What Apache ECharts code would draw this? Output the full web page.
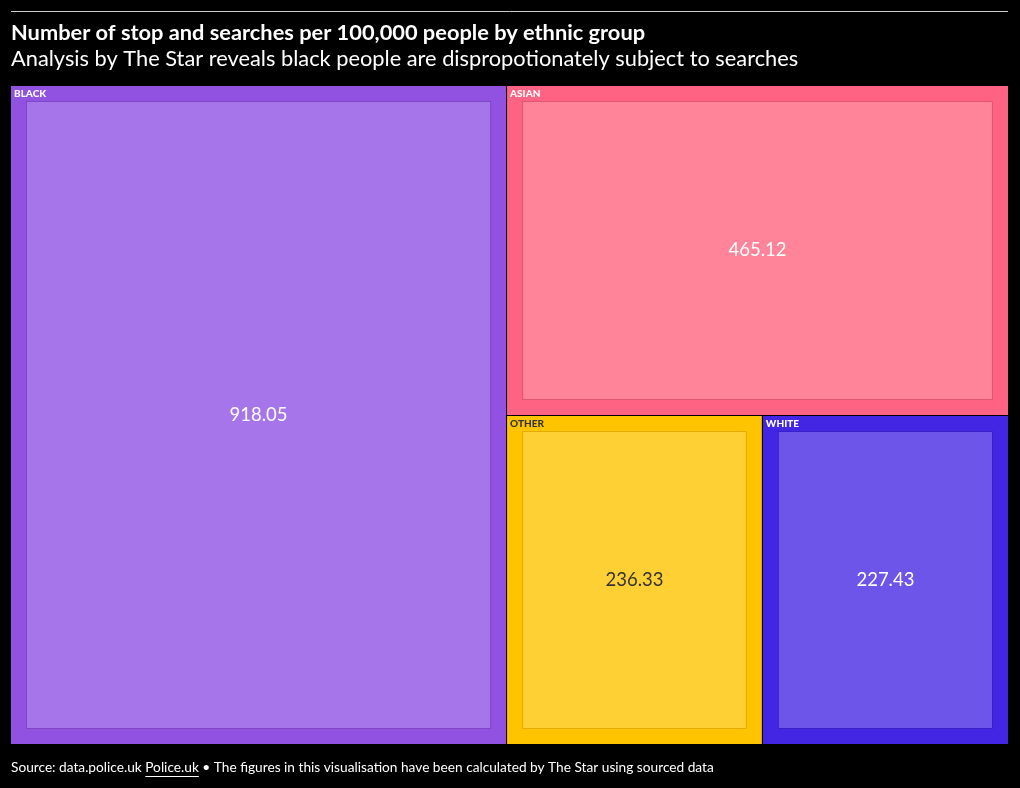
<!DOCTYPE html>
<html>
<head>
<meta charset="utf-8">
<script src="https://cdn.jsdelivr.net/npm/echarts@6/dist/echarts.min.js"></script>
<style>
html,body{margin:0;padding:0;background:#000;}
#chart{width:1020px;height:788px;}
</style>
</head>
<body>
<div id="chart"></div>
<script>
const groups = ['BLACK', 'ASIAN', 'OTHER', 'WHITE'];
const values = [918.05, 465.12, 236.33, 227.43];
const outerColors = ['#9151e1', '#ff6384', '#ffc400', '#4226e3'];
const innerColors = ['#a775ea', '#ff8399', '#ffd033', '#6c55e8'];
const labelColors = ['#ffffff', '#ffffff', '#333333', '#ffffff'];

const titleText = 'Number of stop and searches per 100,000 people by ethnic group';
const subtitleText = 'Analysis by The Star reveals black people are dispropotionately subject to searches';
const footerA = 'Source: data.police.uk ';
const footerLink = 'Police.uk';
const footerB = ' \u2022 The figures in this visualisation have been calculated by The Star using sourced data';

const FONT = 'Lato, "Noto Sans", sans-serif';

const data = groups.map((g, i) => ({
  name: g,
  value: values[i],
  itemStyle: { color: outerColors[i], borderColor: outerColors[i] },
  upperLabel: { color: labelColors[i] },
  children: [{
    name: g + ' ',
    value: values[i],
    itemStyle: { color: innerColors[i], borderColor: 'rgba(0,0,0,0.12)', borderWidth: 1 },
    label: { color: labelColors[i] }
  }]
}));

function measure(text, font) {
  const c = document.createElement('canvas').getContext('2d');
  c.font = font;
  return c.measureText(text).width;
}
const footFont = '13.7px ' + FONT;
const wA = measure(footerA, footFont);
const wL = measure(footerLink, footFont);

const chart = echarts.init(document.getElementById('chart'));
chart.setOption({
  backgroundColor: '#000000',
  animation: false,
  graphic: [
    { type: 'line', shape: { x1: 11, y1: 11.5, x2: 1008, y2: 11.5 }, style: { stroke: '#cccccc', lineWidth: 1 } },
    { type: 'text', left: 11, top: 22, style: { text: titleText, fill: '#ffffff', font: 'bold 21.8px ' + FONT } },
    { type: 'text', left: 11, top: 48, style: { text: subtitleText, fill: '#ffffff', font: '21.8px ' + FONT } },
    { type: 'text', x: 11, y: 761, style: { text: footerA, fill: '#ffffff', font: footFont } },
    { type: 'text', x: 11 + wA, y: 761, style: { text: footerLink, fill: '#ffffff', font: footFont } },
    { type: 'line', shape: { x1: 11 + wA, y1: 776.5, x2: 11 + wA + wL, y2: 776.5 }, style: { stroke: '#ffffff', lineWidth: 1 } },
    { type: 'text', x: 11 + wA + wL, y: 761, style: { text: footerB, fill: '#ffffff', font: footFont } }
  ],
  series: [{
    type: 'treemap',
    left: 11, top: 86, right: 12, bottom: 44,
    roam: false,
    nodeClick: false,
    breadcrumb: { show: false },
    squareRatio: 1,
    label: {
      show: true,
      position: 'inside',
      align: 'center',
      verticalAlign: 'middle',
      fontFamily: FONT,
      fontSize: 18.5,
      formatter: p => p.value.toFixed(2)
    },
    upperLabel: {
      show: true,
      height: 15,
      fontFamily: FONT,
      fontSize: 10,
      fontWeight: 900,
      offset: [-15, 0],
      padding: [0, 0, 0, 3],
      formatter: '{b}'
    },
    levels: [
      { itemStyle: { gapWidth: 1, borderWidth: 0, borderColor: '#000' }, upperLabel: { show: false } },
      { itemStyle: { borderWidth: 15, gapWidth: 0 } },
      { itemStyle: { borderWidth: 1, gapWidth: 0 } }
    ],
    data: data
  }]
});
</script>
</body>
</html>
